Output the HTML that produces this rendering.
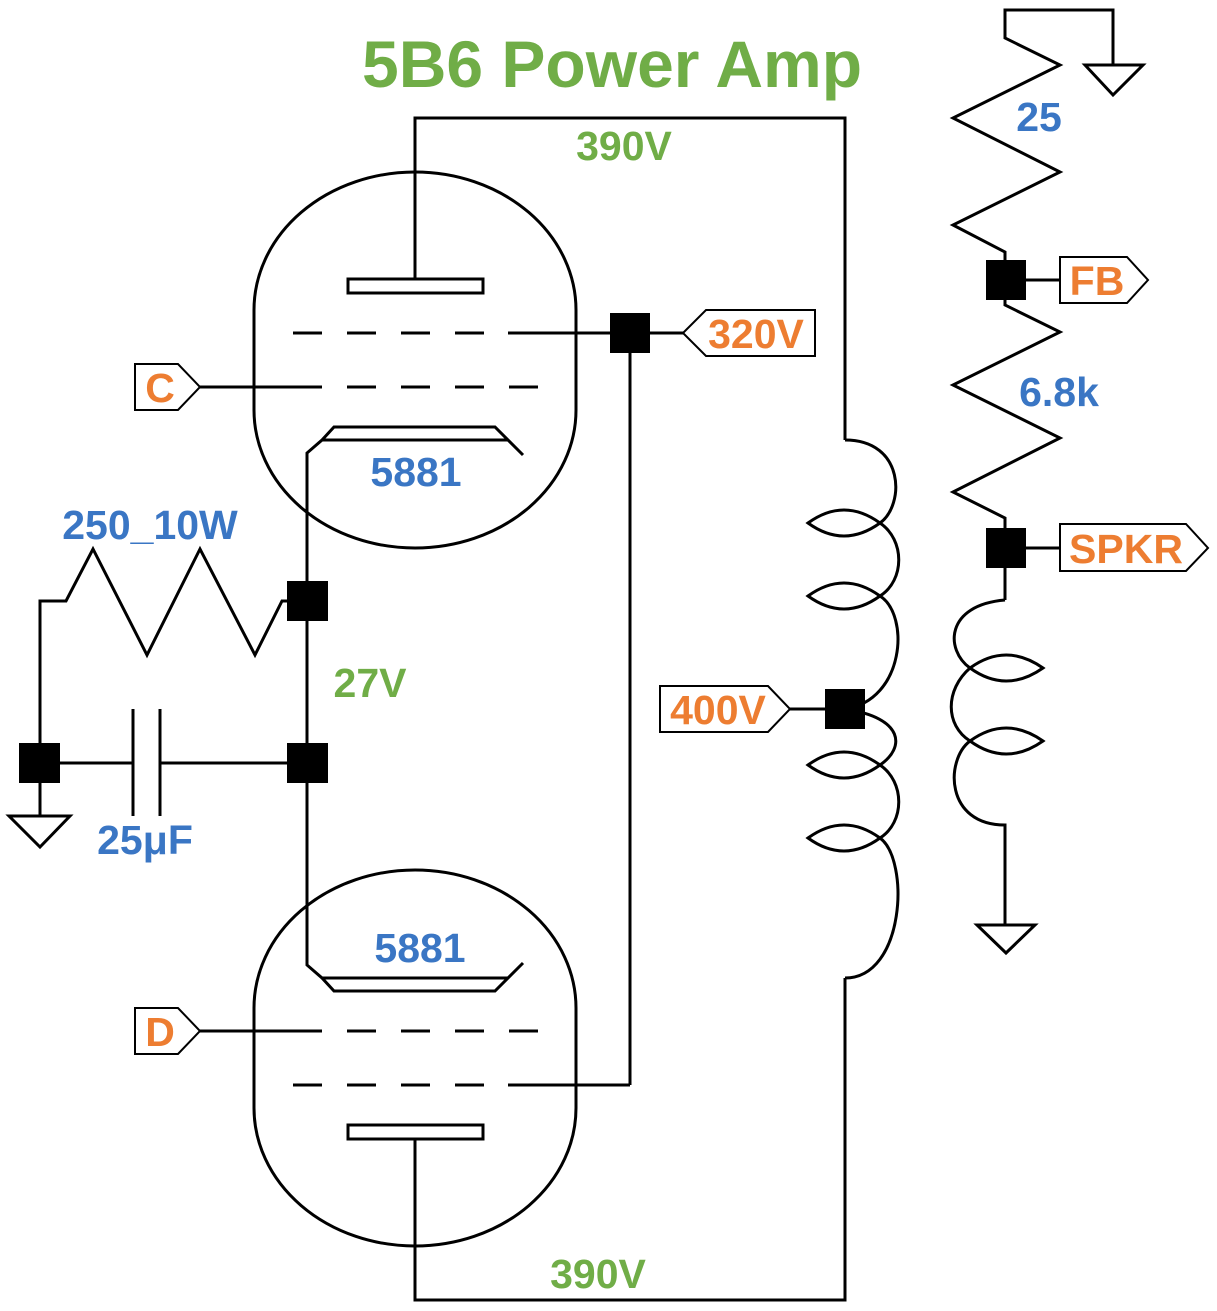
<!DOCTYPE html>
<html><head><meta charset="utf-8"><style>
html,body{margin:0;padding:0;background:#fff;}
svg{display:block;}
text{font-family:"Liberation Sans",Arial,sans-serif;font-weight:bold;}
.b{fill:#3a76c4;font-size:41px;}
.o{fill:#ed7d31;font-size:41px;}
.g{fill:#70ad47;font-size:41px;}
</style></head><body>
<svg width="1217" height="1311" viewBox="0 0 1217 1311" xmlns="http://www.w3.org/2000/svg">
<g fill="none" stroke="#000" stroke-width="3">
<path d="M254,310 A161,138 0 0 1 576,310 L576,410 A161,138 0 0 1 254,410 Z"/>
<rect x="348" y="279" width="135" height="14"/>
<polyline points="415,279 415,118 845,118 845,440"/>
<line x1="293" y1="333" x2="630" y2="333" stroke-dasharray="29,25"/>
<line x1="508" y1="333" x2="630" y2="333"/>
<line x1="200" y1="387" x2="322" y2="387"/>
<line x1="347" y1="387" x2="540" y2="387" stroke-dasharray="29,25"/>
<polyline points="307,600 307,453 322,440 334,427 495,427 523,455"/>
<line x1="322" y1="440" x2="508" y2="440"/>
<path d="M254,1008 A161,138 0 0 1 576,1008 L576,1108 A161,138 0 0 1 254,1108 Z"/>
<rect x="348" y="1125" width="135" height="14"/>
<polyline points="415,1139 415,1300 845,1300 845,978"/>
<line x1="200" y1="1031" x2="322" y2="1031"/>
<line x1="347" y1="1031" x2="540" y2="1031" stroke-dasharray="29,25"/>
<line x1="293" y1="1085" x2="630" y2="1085" stroke-dasharray="29,25"/>
<line x1="508" y1="1085" x2="630" y2="1085"/>
<polyline points="307,600 307,965 322,978 334,991 495,991 523,963"/>
<line x1="322" y1="978" x2="508" y2="978"/>
<line x1="630" y1="333" x2="630" y2="1085"/>
<polyline points="287,601 282,601 255,655 200,549 147,655 93,549 66,601 40,601 40,816"/>
<polygon points="9,816 70,816 40,847"/>
<line x1="60" y1="763" x2="133" y2="763"/>
<line x1="133" y1="709" x2="133" y2="816"/>
<line x1="160" y1="709" x2="160" y2="816"/>
<line x1="160" y1="763" x2="307" y2="763"/>
<path d="M845,440 C905,440 905,505 880,523 Q844,549 808,523 Q844,497 880,523 C905,540 905,580 880,596 Q844,622 808,596 Q844,570 880,596 C910,615 905,700 845,709
C905,718 905,748 880,765 Q844,791 808,765 Q844,739 880,765 C905,782 905,822 880,838 Q844,864 808,838 Q844,812 880,838 C910,860 905,978 845,978"/>
<line x1="790" y1="709" x2="845" y2="709"/>
<polyline points="1113,65 1113,10 1005,10 1005,38 1060,65 953,118 1060,172 953,225 1005,252 1005,305 1060,332 953,385 1060,438 953,492 1005,518 1005,600"/>
<polygon points="1085,65 1143,65 1113,95"/>
<line x1="1026" y1="280" x2="1060" y2="280"/>
<line x1="1026" y1="548" x2="1060" y2="548"/>
<path d="M1005,600 C945,605 945,650 970,668 Q1006,694 1043,668 Q1006,642 970,668 C945,690 945,725 970,741 Q1006,767 1043,741 Q1006,715 970,741 C945,760 945,825 1005,825 L1005,925"/>
<polygon points="977,925 1035,925 1006,953"/>
<polygon points="135,364 178,364 200,387 178,410 135,410" stroke-width="2"/>
<polygon points="135,1008 178,1008 200,1031 178,1054 135,1054" stroke-width="2"/>
<polygon points="683,333 706,310 815,310 815,356 706,356" stroke-width="2"/>
<line x1="650" y1="333" x2="683" y2="333"/>
<polygon points="660,686 768,686 790,709 768,732 660,732" stroke-width="2"/>
<polygon points="1060,257 1127,257 1148,280 1127,303 1060,303" stroke-width="2"/>
<polygon points="1060,524 1186,524 1208,548 1186,571 1060,571" stroke-width="2"/>
</g>
<g fill="#000">
<rect x="287" y="581" width="41" height="40"/>
<rect x="287" y="743" width="41" height="40"/>
<rect x="19" y="743" width="41" height="40"/>
<rect x="610" y="313" width="40" height="40"/>
<rect x="825" y="689" width="40" height="40"/>
<rect x="986" y="260" width="40" height="40"/>
<rect x="986" y="528" width="40" height="40"/>
</g>
<text x="612" y="87" text-anchor="middle" style="fill:#70ad47;font-size:66px;">5B6 Power Amp</text>
<text class="g" x="624" y="160" text-anchor="middle">390V</text>
<text class="g" x="598" y="1288" text-anchor="middle">390V</text>
<text class="g" x="370" y="697" text-anchor="middle">27V</text>
<text class="b" x="416" y="486" text-anchor="middle">5881</text>
<text class="b" x="420" y="962" text-anchor="middle">5881</text>
<text class="b" x="150" y="539" text-anchor="middle">250_10W</text>
<text class="b" x="145" y="854" text-anchor="middle">25μF</text>
<text class="b" x="1039" y="131" text-anchor="middle">25</text>
<text class="b" x="1059" y="406" text-anchor="middle">6.8k</text>
<text class="o" x="160" y="402" text-anchor="middle">C</text>
<text class="o" x="160" y="1046" text-anchor="middle">D</text>
<text class="o" x="756" y="348" text-anchor="middle">320V</text>
<text class="o" x="718" y="724" text-anchor="middle">400V</text>
<text class="o" x="1097" y="295" text-anchor="middle">FB</text>
<text class="o" x="1126" y="563" text-anchor="middle">SPKR</text>
</svg>
</body></html>
